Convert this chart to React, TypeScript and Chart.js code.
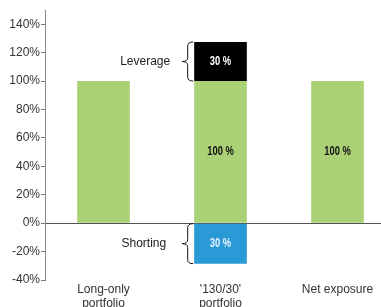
import React, { useEffect, useRef } from 'react';
import { Chart, registerables } from 'chart.js';
Chart.register(...registerables);

const categories = [['Long-only', 'portfolio'], ["'130/30'", 'portfolio'], ['Net exposure']];
const longValues = [100, 100, 100];
const leverageValues = [0, 27.5, 0];
const shortValues = [0, -28.5, 0];
const longLabels = ['', '100 %', '100 %'];
const leverageLabels = ['', '30 %', ''];
const shortLabels = ['', '30 %', ''];
const braceTexts = ['Leverage', 'Shorting'];
const yTickValues = [-40, -20, 0, 20, 40, 60, 80, 100, 120, 140];
const yMin = -40;
const yMax = 150;

const GREEN = '#abd177';
const BLACK = '#000000';
const BLUE = '#2a9ad6';
const FONT = '"Liberation Sans", Arial, sans-serif';

function drawBrace(ctx: CanvasRenderingContext2D, xr: number, xt: number, top: number, bot: number) {
  const xm = (xr + xt) / 2;
  const mid = (top + bot) / 2;
  const r = 4;
  ctx.beginPath();
  ctx.moveTo(xr, top);
  ctx.quadraticCurveTo(xm, top, xm, top + r);
  ctx.lineTo(xm, mid - r);
  ctx.quadraticCurveTo(xm, mid, xt, mid);
  ctx.quadraticCurveTo(xm, mid, xm, mid + r);
  ctx.lineTo(xm, bot - r);
  ctx.quadraticCurveTo(xm, bot, xr, bot);
  ctx.strokeStyle = '#111';
  ctx.lineWidth = 1;
  ctx.stroke();
}

const annotate = {
  id: 'annotate',
  afterDatasetsDraw(chart: any) {
    const ctx = chart.ctx as CanvasRenderingContext2D;
    ctx.save();
    const sets: [number, string[], string][] = [
      [0, longLabels, '#111111'],
      [1, leverageLabels, '#ffffff'],
      [2, shortLabels, '#e6f3ff'],
    ];
    ctx.font = 'bold 12px ' + FONT;
    ctx.textAlign = 'center';
    ctx.textBaseline = 'middle';
    for (const [di, labels, color] of sets) {
      const meta = chart.getDatasetMeta(di);
      meta.data.forEach((bar: any, i: number) => {
        if (!labels[i]) return;
        const { x, y, base } = bar.getProps(['x', 'y', 'base'], true);
        ctx.save();
        ctx.translate(x, (y + base) / 2);
        ctx.scale(0.78, 1);
        ctx.fillStyle = color;
        ctx.fillText(labels[i], 0, 0);
        ctx.restore();
      });
    }
    braceTexts.forEach((text, k) => {
      const di = k + 1;
      const bar = chart.getDatasetMeta(di).data[1];
      const { x, y, base, width } = bar.getProps(['x', 'y', 'base', 'width'], true);
      const left = x - width / 2;
      const top = Math.min(y, base);
      const bot = Math.max(y, base);
      drawBrace(ctx, left - 1, left - 12, top, bot);
      ctx.font = '12px ' + FONT;
      ctx.fillStyle = '#222';
      ctx.textAlign = 'right';
      ctx.textBaseline = 'middle';
      ctx.fillText(text, left - (k === 0 ? 24 : 28), (top + bot) / 2);
    });
    ctx.restore();
  },
};

export default function App() {
  const ref = useRef<HTMLCanvasElement>(null);
  useEffect(() => {
    const chart = new Chart(ref.current as HTMLCanvasElement, {
      type: 'bar',
      data: {
        labels: categories as any,
        datasets: [
          { data: longValues, backgroundColor: GREEN, borderWidth: 0 },
          { data: leverageValues, backgroundColor: BLACK, borderWidth: 0 },
          { data: shortValues, backgroundColor: BLUE, borderWidth: 0 },
        ],
      },
      options: {
        animation: false,
        responsive: false,
        devicePixelRatio: 1,
        layout: { padding: { top: 10, left: 0, right: 0, bottom: 0 } },
        datasets: { bar: { categoryPercentage: 1, barPercentage: 0.45 } },
        plugins: { legend: { display: false }, tooltip: { enabled: false } },
        scales: {
          x: {
            stacked: true,
            grid: { display: false, drawTicks: false },
            border: { display: false },
            ticks: { color: '#333', font: { family: FONT, size: 12, lineHeight: 1.15 }, padding: 3, maxRotation: 0 },
            afterFit: (s: any) => { s.height = 27; },
          },
          y: {
            stacked: true,
            min: yMin,
            max: yMax,
            afterBuildTicks: (s: any) => { s.ticks = yTickValues.map((v) => ({ value: v })); },
            afterFit: (s: any) => { s.width = 45; },
            grid: {
              drawOnChartArea: true,
              color: (c: any) => (c.tick && c.tick.value === 0 ? '#555' : 'rgba(0,0,0,0)'),
              tickColor: '#777',
              tickLength: 4,
            },
            border: { display: true, color: '#888', width: 1 },
            ticks: {
              color: '#333',
              font: { family: FONT, size: 12 },
              padding: 1,
              callback: (v: any) => v + '%',
            },
          },
        },
      },
      plugins: [annotate],
    });
    return () => chart.destroy();
  }, []);
  return (
    <div style={{ position: 'fixed', left: 0, top: 0, width: 381, height: 307, overflow: 'hidden', background: '#fff' }}>
      <canvas ref={ref} width={396} height={307} style={{ width: 396, height: 307, display: 'block' }} />
    </div>
  );
}
